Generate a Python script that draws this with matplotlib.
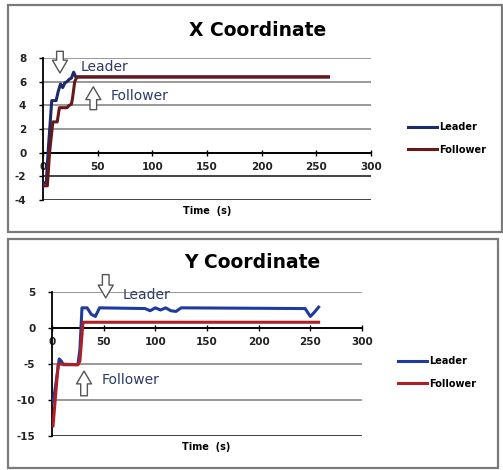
import matplotlib
matplotlib.use("Agg")
import matplotlib.pyplot as plt
from matplotlib.patches import Rectangle

plt.rcParams["axes.unicode_minus"] = False

W, H = 503, 470

# X coordinate over time
x_leader_t = [0, 3, 5, 8, 12, 14, 16, 18, 20, 22, 24, 26, 28, 30, 261]
x_leader_v = [-2.6, -2.5, 0.5, 4.4, 4.4, 5.2, 5.8, 5.5, 5.9, 6.0, 6.2, 6.3, 6.8, 6.4, 6.4]
x_follower_t = [0, 4, 6, 9, 13, 15, 22, 24, 26, 27, 29, 31, 261]
x_follower_v = [-2.8, -2.8, 0.0, 2.6, 2.6, 3.8, 3.8, 4.0, 4.1, 4.6, 6.0, 6.4, 6.4]

# Y coordinate over time
y_leader_t = [1, 3, 7, 9, 11, 25, 27, 29, 34, 38, 42, 46, 90, 95, 100, 105, 110,
              115, 120, 125, 245, 250, 254, 258]
y_leader_v = [-10.3, -8.5, -4.3, -4.6, -5.1, -5.1, -3.0, 2.8, 2.8, 1.9, 1.6, 2.8, 2.7,
              2.4, 2.8, 2.5, 2.8, 2.4, 2.3, 2.8, 2.7, 1.6, 2.2, 2.9]
y_follower_t = [1, 6, 25, 27, 30, 258]
y_follower_v = [-13.6, -5.0, -5.1, -4.6, 0.8, 0.8]

x_ticks = [0, 50, 100, 150, 200, 250, 300]
top_yticks = [-4, -2, 0, 2, 4, 6, 8]
bot_yticks = [-15, -10, -5, 0, 5]


def fbox(x0, y0, x1, y1):
    return [x0 / W, 1 - y1 / H, (x1 - x0) / W, (y1 - y0) / H]


def fpt(x, y):
    return (x / W, 1 - y / H)


fig = plt.figure(figsize=(W / 100, H / 100), dpi=100)
fig.patch.set_facecolor("white")

# panel frames
for (x0, y0, x1, y1) in [(8, 5, 502, 232), (8, 239, 498, 468)]:
    fig.patches.append(Rectangle(fpt(x0, y1), (x1 - x0) / W, (y1 - y0) / H,
                                 transform=fig.transFigure, fill=False,
                                 edgecolor="#7a7a7a", linewidth=1.6))


def style_axes(ax, yticks, grid_colors):
    ax.set_xlim(0, 300)
    ax.set_ylim(yticks[0], yticks[-1])
    for s in ["top", "right"]:
        ax.spines[s].set_visible(False)
    ax.spines["bottom"].set_position(("data", 0))
    ax.spines["bottom"].set_linewidth(1.3)
    ax.spines["left"].set_linewidth(1.3)
    ax.set_xticks(x_ticks)
    ax.set_yticks(yticks)
    for y, c in zip(yticks, grid_colors):
        ax.axhline(y, color=c, linewidth=1.2, zorder=1)
    ax.tick_params(axis="x", direction="inout", length=5, width=1, pad=4,
                   labelsize=7.5, labelcolor="#222222")
    ax.tick_params(axis="y", direction="out", length=3, width=1, pad=9,
                   labelsize=7.5, labelcolor="#222222")
    for lab in ax.get_xticklabels() + ax.get_yticklabels():
        lab.set_fontweight("bold")


arrow_kw = dict(arrowstyle="simple,head_width=1.35,head_length=1.15,tail_width=0.6",
                fc="white", ec="#555555", lw=1.0, mutation_scale=8)

# ---- X coordinate panel ----
ax1 = fig.add_axes(fbox(43, 58, 371, 200))
style_axes(ax1, top_yticks,
           ["#222222", "#222222", "#222222", "#888888", "#888888", "#888888", "#888888"])
ax1.plot(x_leader_t, x_leader_v, color="#1c2a6b", lw=2.2, label="Leader", zorder=3)
ax1.plot(x_follower_t, x_follower_v, color="#6a1717", lw=2.2, label="Follower", zorder=4)
ax1.annotate("", xy=(15.5, 6.5), xytext=(15.5, 8.8), arrowprops=arrow_kw,
             annotation_clip=False)
ax1.annotate("", xy=(46, 5.8), xytext=(46, 3.4), arrowprops=arrow_kw,
             annotation_clip=False)
ax1.text(34, 7.2, "Leader", fontsize=10, color="#2c3a66", va="center", ha="left")
ax1.text(62, 4.8, "Follower", fontsize=10, color="#2c3a66", va="center", ha="left")
fig.text(*fpt(258, 30), "X Coordinate", fontsize=13.5, fontweight="bold",
         ha="center", va="center")
fig.text(*fpt(207, 211), "Time  (s)", fontsize=7, fontweight="bold",
         ha="center", va="center")
fig.legend(*ax1.get_legend_handles_labels(), loc="upper left",
           bbox_to_anchor=fpt(408, 122), frameon=False, prop=dict(size=7, weight="bold"),
           handlelength=3.0, handletextpad=0.25, labelspacing=1.3,
           borderpad=0, borderaxespad=0)

# ---- Y coordinate panel ----
ax2 = fig.add_axes(fbox(52, 292, 362, 436))
style_axes(ax2, bot_yticks, ["#222222", "#888888", "#888888", "#222222", "#888888"])
ax2.plot(y_leader_t, y_leader_v, color="#1f3c9c", lw=2.2, label="Leader", zorder=3)
ax2.plot(y_follower_t, y_follower_v, color="#b01f24", lw=2.2, label="Follower", zorder=4)
ax2.annotate("", xy=(52, 3.8), xytext=(52, 7.8), arrowprops=arrow_kw,
             annotation_clip=False)
ax2.annotate("", xy=(31, -5.6), xytext=(31, -9.8), arrowprops=arrow_kw,
             annotation_clip=False)
ax2.text(68, 4.6, "Leader", fontsize=10, color="#2c3a66", va="center", ha="left")
ax2.text(48, -7.2, "Follower", fontsize=10, color="#2c3a66", va="center", ha="left")
fig.text(*fpt(252, 263), "Y Coordinate", fontsize=13.5, fontweight="bold",
         ha="center", va="center")
fig.text(*fpt(206, 447), "Time  (s)", fontsize=7, fontweight="bold",
         ha="center", va="center")
fig.legend(*ax2.get_legend_handles_labels(), loc="upper left",
           bbox_to_anchor=fpt(398, 356), frameon=False, prop=dict(size=7, weight="bold"),
           handlelength=3.0, handletextpad=0.25, labelspacing=1.3,
           borderpad=0, borderaxespad=0)

fig.savefig("out.png", dpi=100)
